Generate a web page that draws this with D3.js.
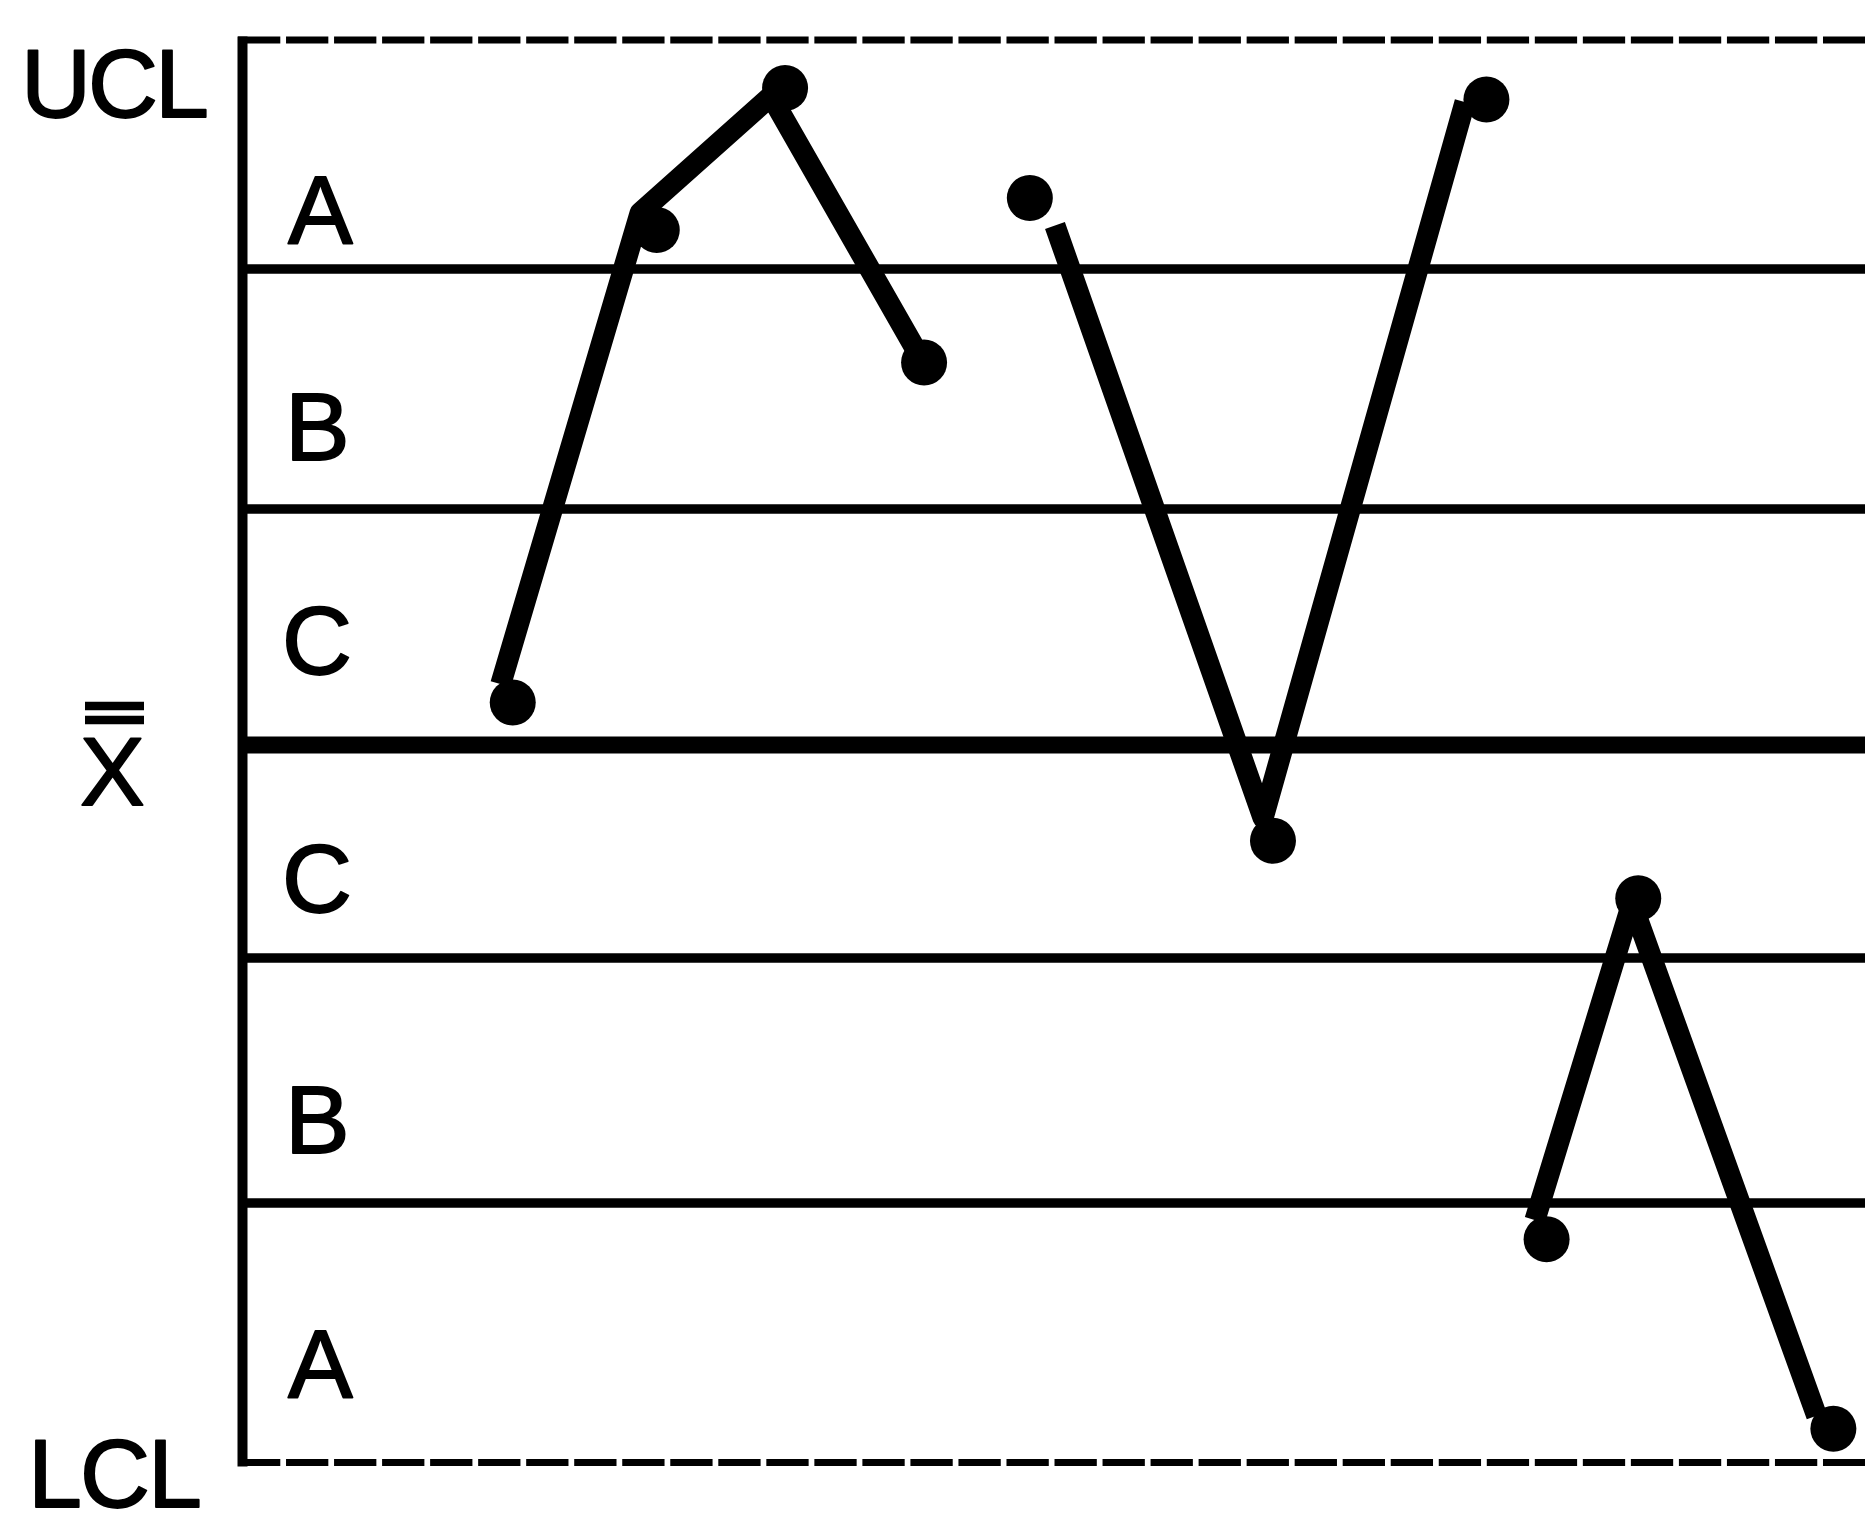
<!DOCTYPE html>
<html>
<head>
<meta charset="utf-8">
<script src="https://cdn.jsdelivr.net/npm/d3@7"></script>
<style>
  html, body { margin: 0; padding: 0; background: #fff; }
  svg { display: block; }
  text { font-family: "Liberation Sans", Arial, Helvetica, sans-serif; fill: #000; stroke: #000; stroke-width: 1.8; stroke-linejoin: round; }
</style>
</head>
<body>
<svg id="chart" width="1865" height="1518"></svg>
<script>
// ---- data (sigma units; x = sample time position) ----
const zoneLimits = [3, 2, 1, 0, -1, -2, -3];           // UCL ... LCL
const limitLabels = ["UCL", "X", "LCL"];
const zoneLabels = ["A", "B", "C", "C", "B", "A"];
const zoneLabelSigma = [2.114, 1.204, 0.301, -0.784, -1.796, -2.749];

const sampleX = [16.63, 25.51, 33.42, 41.99, 48.51, 63.50, 76.66, 80.37, 86.02, 98.05];
const sampleSigma = [0.18, 2.17, 2.79, 1.61, 2.31, -0.45, 2.74, -2.14, -0.72, -2.87];

// hand-drawn connecting traces (vertices)
const trace1X = [15.89, 24.48, 32.55, 41.43];
const trace1Sigma = [0.258, 2.245, 2.755, 1.67];
const trace2X = [50.06, 62.89, 75.34];
const trace2Sigma = [2.19, -0.343, 2.729];
const trace3X = [79.65, 85.63, 97.02];
const trace3Sigma = [-2.066, -0.742, -2.82];

// ---- layout ----
const svg = d3.select("#chart");
const x = d3.scaleLinear().domain([0, 100]).range([243, 1865]);
const y = d3.scaleLinear().domain(zoneLimits).range([40, 269, 509, 745, 958, 1203, 1462.5]);

const fontSize = 97;

// zone boundary lines
const inner = zoneLimits.filter(v => Math.abs(v) !== 3);
svg.append("g").selectAll("line").data(inner).join("line")
  .attr("x1", x(0)).attr("x2", 1865)
  .attr("y1", d => y(d)).attr("y2", d => y(d))
  .attr("stroke", "#000")
  .attr("stroke-width", d => d === 0 ? 17 : 9.5);

// control limits (dashed)
svg.append("g").selectAll("line").data([3, -3]).join("line")
  .attr("x1", x(0) - 5).attr("x2", 1865)
  .attr("y1", d => y(d)).attr("y2", d => y(d))
  .attr("stroke", "#000")
  .attr("stroke-width", 7)
  .attr("stroke-dasharray", "42.3 5.73");

// vertical axis
svg.append("line")
  .attr("x1", x(0) - 0.5).attr("x2", x(0) - 0.5)
  .attr("y1", y(3) - 3.5).attr("y2", y(-3) + 4)
  .attr("stroke", "#000").attr("stroke-width", 10);

// zone letters
svg.append("g").selectAll("text").data(zoneLabels).join("text")
  .attr("x", (d) => d === "A" ? 288 : (d === "B" ? 285 : 282))
  .attr("y", (d, i) => y(zoneLabelSigma[i]))
  .attr("font-size", fontSize)
  .text(d => d);

// limit labels
svg.append("text").attr("x", 21).attr("y", y(3) + 77)
  .attr("font-size", fontSize).attr("letter-spacing", -3).text(limitLabels[0]);
svg.append("text").attr("x", 28).attr("y", y(-3) + 44.5)
  .attr("font-size", fontSize).attr("letter-spacing", -2).text(limitLabels[2]);
const xbar = svg.append("g");
xbar.append("text").attr("x", 80).attr("y", y(0) + 60)
  .attr("font-size", fontSize).text(limitLabels[1]);
[y(0) - 39, y(0) - 25].forEach(yy => {
  xbar.append("line").attr("x1", 85).attr("x2", 144)
    .attr("y1", yy).attr("y2", yy)
    .attr("stroke", "#000").attr("stroke-width", 8.5);
});

// traces
const lineGen = d3.line().x(d => x(d[0])).y(d => y(d[1]));
const traces = [
  d3.zip(trace1X, trace1Sigma),
  d3.zip(trace2X, trace2Sigma),
  d3.zip(trace3X, trace3Sigma)
];
svg.append("g").selectAll("path").data(traces).join("path")
  .attr("d", lineGen)
  .attr("fill", "none")
  .attr("stroke", "#000")
  .attr("stroke-width", 21)
  .attr("stroke-linejoin", "round")
  .attr("stroke-linecap", "butt");

// sample points
svg.append("g").selectAll("circle").data(d3.zip(sampleX, sampleSigma)).join("circle")
  .attr("cx", d => x(d[0]))
  .attr("cy", d => y(d[1]))
  .attr("r", 23)
  .attr("fill", "#000");
</script>
</body>
</html>
